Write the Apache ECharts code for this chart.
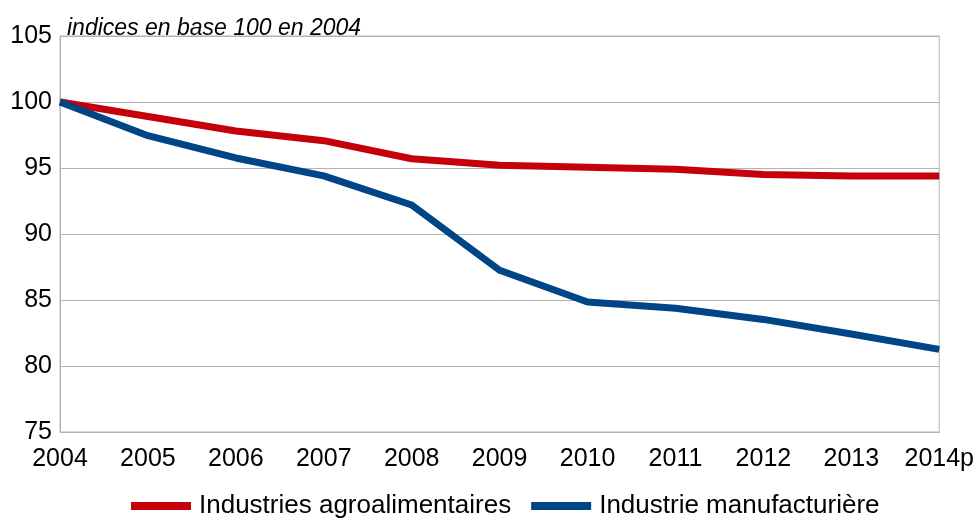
<!DOCTYPE html>
<html>
<head>
<meta charset="utf-8">
<script src="https://cdn.jsdelivr.net/npm/echarts@6/dist/echarts.min.js"></script>
<style>
  html,body{margin:0;padding:0;background:#fff;}
  #main{width:977px;height:518px;}
</style>
</head>
<body>
<div id="main"></div>
<script>
var years = ['2004','2005','2006','2007','2008','2009','2010','2011','2012','2013','2014p'];
var agro = [100, 98.9, 97.8, 97.07, 95.7, 95.2, 95.05, 94.9, 94.5, 94.4, 94.4];
var manuf = [100, 97.45, 95.76, 94.4, 92.2, 87.25, 84.85, 84.38, 83.53, 82.42, 81.26];
var yTicks = [75, 80, 85, 90, 95, 100, 105];

var myChart = echarts.init(document.getElementById('main'));
var font = 'Liberation Sans, Arial, sans-serif';
var option = {
  animation: false,
  title: {
    text: 'indices en base 100 en 2004',
    left: 62, top: 12,
    textStyle: {fontFamily: font, fontStyle: 'italic', fontWeight: 'normal', fontSize: 23, color: '#000'}
  },
  legend: {
    bottom: -6, left: 126,
    itemWidth: 60, itemHeight: 8, itemGap: 20,
    icon: 'rect',
    textStyle: {fontFamily: font, fontSize: 26, color: '#000', padding: [0, 0, 0, 3]},
    data: ['Industries agroalimentaires', 'Industrie manufacturière']
  },
  grid: {left: 60, right: 37, top: 36, bottom: 86, show: true, borderColor: '#b3b3b3', borderWidth: 1},
  xAxis: {
    type: 'category',
    data: years,
    boundaryGap: false,
    axisLine: {lineStyle: {color: '#b3b3b3'}},
    axisTick: {show: false},
    axisLabel: {fontFamily: font, fontSize: 25, color: '#000', margin: 15, interval: 0}
  },
  yAxis: {
    type: 'value',
    min: yTicks[0], max: yTicks[yTicks.length - 1], interval: 5,
    axisLine: {show: true, lineStyle: {color: '#b3b3b3'}},
    axisTick: {show: false},
    splitLine: {lineStyle: {color: '#b3b3b3'}},
    axisLabel: {fontFamily: font, fontSize: 25, color: '#000', margin: 8}
  },
  series: [{
    name: 'Industries agroalimentaires',
    type: 'line',
    data: agro,
    symbol: 'none',
    itemStyle: {color: '#c5000b'},
    lineStyle: {width: 7, color: '#c5000b'}
  }, {
    name: 'Industrie manufacturière',
    type: 'line',
    data: manuf,
    symbol: 'none',
    itemStyle: {color: '#004586'},
    lineStyle: {width: 7, color: '#004586'}
  }]
};
myChart.setOption(option);
</script>
</body>
</html>
